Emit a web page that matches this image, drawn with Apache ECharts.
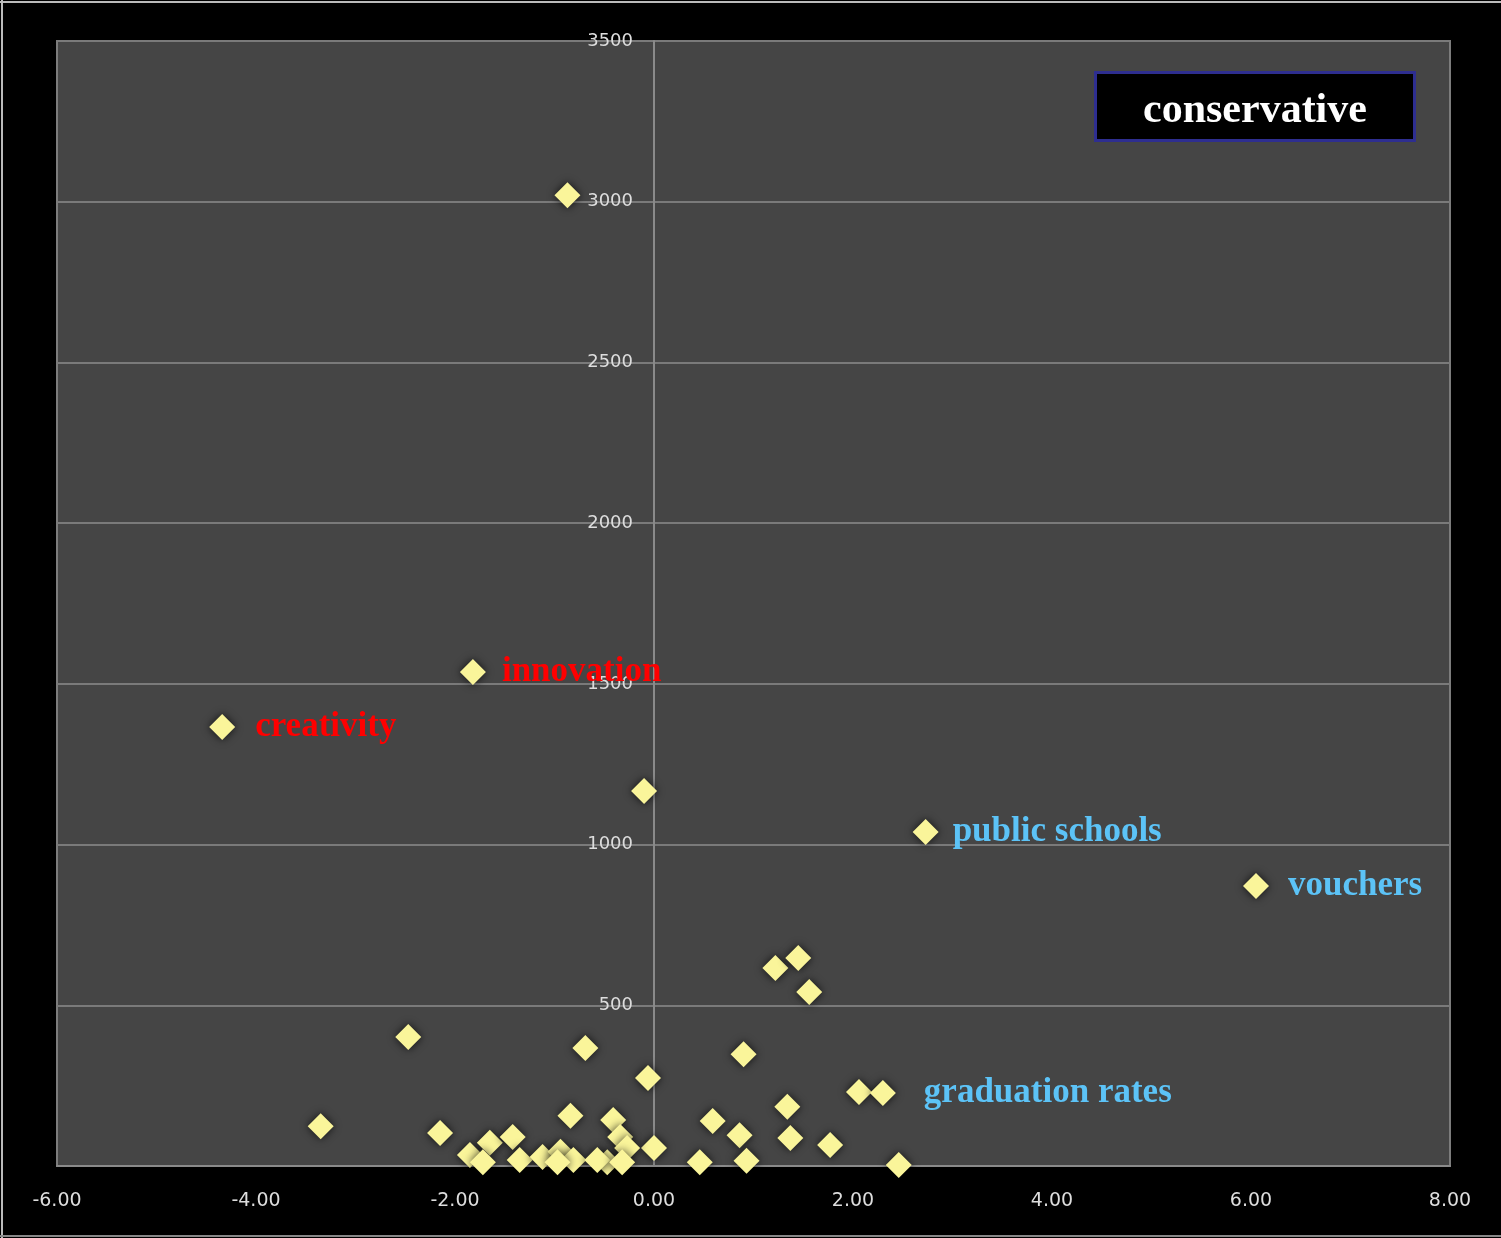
<!DOCTYPE html>
<html>
<head>
<meta charset="utf-8">
<script src="https://cdn.jsdelivr.net/npm/echarts@6/dist/echarts.min.js"></script>
<style>
html,body{margin:0;padding:0;background:#000;}
#chart{width:1501px;height:1238px;}
</style>
</head>
<body>
<div id="chart"></div>
<script>
// Data
const xValues = [-0.87, -1.82, -4.34, -0.10, 2.73, 6.05, 1.22, 1.45, 1.56, -2.47, -0.69, 0.90, -0.06, 2.06, 2.30,
  -3.35, -0.84, 1.34, 0.59, -2.15, 0.86, 1.37, 1.77, 0.00, 0.46, 0.93, 2.46,
  -1.85, -1.65, -1.72, -1.42, -1.35, -1.12, -0.94, -0.81, -0.97, -0.41, -0.34, -0.27, -0.47, -0.57, -0.32];
const yValues = [3020, 1537, 1366, 1167, 1039, 871, 616, 647, 541, 401, 367, 348, 274, 230, 227,
  124, 156, 184, 140, 103, 96, 87, 65, 56, 12, 16, 3,
  34, 72, 12, 90, 19, 28, 44, 19, 12, 143, 90, 56, 12, 19, 12];
const pointLabels = ['', 'innovation', 'creativity', '', 'public schools', 'vouchers', '', '', '', '', '', '', '', '', 'graduation rates'];
const labelColors = ['', '#ff0000', '#ff0000', '', '#5cc3f7', '#5cc3f7', '', '', '', '', '', '', '', '', '#5cc3f7'];
const xTicks = [-6, -4, -2, 0, 2, 4, 6, 8];
const yTicks = [0, 500, 1000, 1500, 2000, 2500, 3000, 3500];
const legendText = 'conservative';

const labelDistances = {1: 16, 2: 20, 4: 14, 5: 19, 14: 28};

const data = xValues.map((x, i) => {
  const item = { value: [x, yValues[i]] };
  if (pointLabels[i]) {
    item.label = {
      show: true,
      position: 'right',
      distance: labelDistances[i] || 16,
      formatter: pointLabels[i],
      color: labelColors[i],
      fontFamily: '"Liberation Serif", "Times New Roman", serif',
      fontWeight: 'bold',
      fontSize: 35
    };
  }
  return item;
});

const GRID_LEFT = 57, GRID_RIGHT = 51;
const plotWidth = 1501 - GRID_LEFT - GRID_RIGHT;
const zeroOffset = (0 - xTicks[0]) / (xTicks[xTicks.length - 1] - xTicks[0]) * plotWidth;

const chart = echarts.init(document.getElementById('chart'));
chart.setOption({
  backgroundColor: '#000',
  animation: false,
  title: {
    text: legendText,
    left: 1095,
    top: 72,
    backgroundColor: '#000',
    borderColor: '#2e2e90',
    borderWidth: 3,
    padding: [17, 48, 8, 48],
    textStyle: {
      color: '#ffffff',
      fontFamily: '"Liberation Serif", "Times New Roman", serif',
      fontWeight: 'bold',
      fontSize: 42,
      lineHeight: 44
    }
  },
  graphic: [
    { type: 'line', shape: { x1: 2, y1: 0, x2: 2, y2: 1238 }, style: { stroke: '#bbbbbb', lineWidth: 2 } },
    { type: 'line', shape: { x1: 0, y1: 2, x2: 1501, y2: 2 }, style: { stroke: '#bbbbbb', lineWidth: 2 } },
    { type: 'line', shape: { x1: 0, y1: 1236, x2: 1501, y2: 1236 }, style: { stroke: '#888888', lineWidth: 2 } }
  ],
  grid: {
    left: GRID_LEFT, top: 41, right: GRID_RIGHT, bottom: 72,
    outerBoundsMode: 'none',
    containLabel: false,
    show: true,
    backgroundColor: '#454545',
    borderColor: '#7c7c7c',
    borderWidth: 2
  },
  xAxis: {
    type: 'value',
    min: xTicks[0],
    max: xTicks[xTicks.length - 1],
    interval: 2,
    axisLine: { show: true, onZero: false, lineStyle: { color: '#8a8a8a', width: 2 } },
    axisTick: { show: false },
    splitLine: { show: false },
    axisLabel: {
      color: '#dddddd',
      fontFamily: '"DejaVu Sans", Verdana, sans-serif',
      fontSize: 19,
      margin: 26,
      formatter: v => v.toFixed(2)
    }
  },
  yAxis: {
    type: 'value',
    min: yTicks[0],
    max: yTicks[yTicks.length - 1],
    interval: 500,
    offset: -zeroOffset,
    axisLine: { show: true, onZero: false, lineStyle: { color: '#8a8a8a', width: 2 } },
    axisTick: { show: false },
    splitLine: { show: true, lineStyle: { color: '#7a7a7a', width: 2 } },
    axisLabel: {
      color: '#dddddd',
      fontFamily: '"DejaVu Sans", Verdana, sans-serif',
      fontSize: 18,
      margin: 21,
      showMinLabel: false,
      formatter: v => String(v)
    }
  },
  series: [{
    type: 'scatter',
    symbol: 'diamond',
    symbolSize: 26,
    data: data,
    z: 5,
    itemStyle: {
      color: '#faf59a',
      opacity: 1,
      shadowBlur: 8,
      shadowColor: 'rgba(0,0,0,0.75)'
    },
    label: { opacity: 1 }
  }]
});
</script>
</body>
</html>
